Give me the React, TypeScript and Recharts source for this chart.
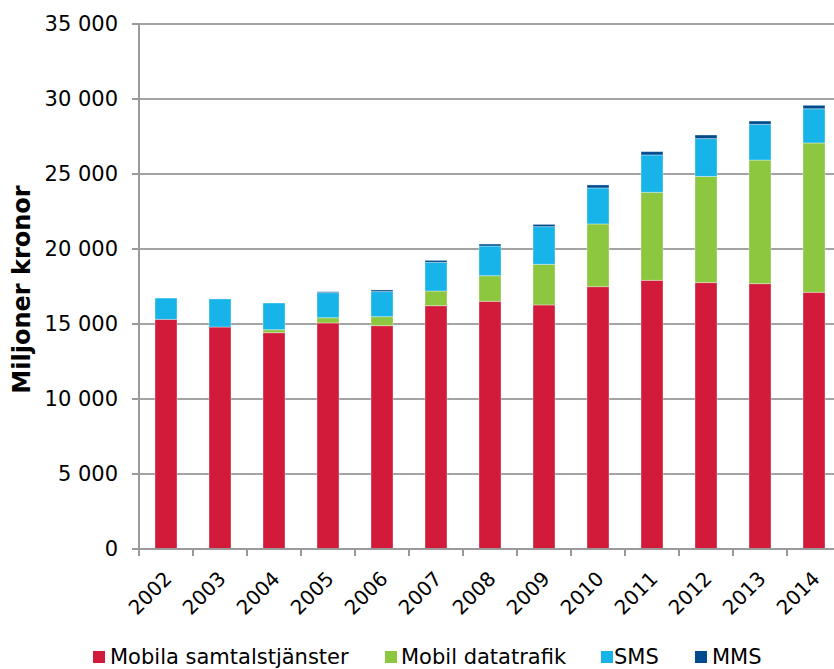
import React from 'react';
import {
  BarChart,
  Bar,
  XAxis,
  YAxis,
  CartesianGrid,
  Legend,
  Label,
} from 'recharts';

// Mobile service revenue, million SEK per year
const years = ['2002', '2003', '2004', '2005', '2006', '2007', '2008', '2009', '2010', '2011', '2012', '2013', '2014'];
const samtalstjanster = [15310, 14800, 14420, 15070, 14890, 16220, 16510, 16270, 17490, 17910, 17760, 17690, 17110];
const datatrafik = [0, 0, 200, 350, 600, 980, 1710, 2710, 4180, 5870, 7080, 8240, 9960];
const sms = [1420, 1870, 1780, 1670, 1670, 1910, 1980, 2510, 2400, 2490, 2520, 2380, 2280];
const mms = [0, 0, 0, 60, 110, 130, 130, 150, 200, 220, 240, 220, 230];
const yTicks = [0, 5000, 10000, 15000, 20000, 25000, 30000, 35000];

const series = [
  { key: 'samtal', name: 'Mobila samtalstjänster', color: '#D21B3A', values: samtalstjanster },
  { key: 'data', name: 'Mobil datatrafik', color: '#8DC63F', values: datatrafik },
  { key: 'sms', name: 'SMS', color: '#16B4E9', values: sms },
  { key: 'mms', name: 'MMS', color: '#004B8D', values: mms },
];

const data = years.map((year, i) => {
  const row: Record<string, string | number> = { year };
  series.forEach((s) => {
    row[s.key] = s.values[i];
  });
  return row;
});

// Layout
const CHART_W = 870;
const CHART_H = 669;
const MARGIN = { top: 24, right: 29, left: 0, bottom: 0 };
const Y_AXIS_W = 139;
const X_AXIS_H = 80;
const LEGEND_H = 40;
const PLOT_W = CHART_W - MARGIN.left - MARGIN.right - Y_AXIS_W;
const BAND = PLOT_W / years.length;
const AXIS_COLOR = '#9a9a9a';
const FONT = '"DejaVu Sans", Verdana, sans-serif';

// Horizontal placement of each legend entry (swatch, label)
const legendLayout = [
  { square: 93, text: 110 },
  { square: 385, text: 401 },
  { square: 601, text: 614 },
  { square: 695, text: 712 },
];

const formatThousands = (v: number) =>
  String(v).replace(/\B(?=(\d{3})+(?!\d))/g, ' ');

const XTick = (props: any) => {
  const { x, y, payload, index } = props;
  const tx = x + 7;
  const ty = y + 31;
  return (
    <g>
      <line x1={x - BAND / 2} x2={x - BAND / 2} y1={y} y2={y + 7} stroke={AXIS_COLOR} strokeWidth={2} />
      {index === years.length - 1 && (
        <line x1={x + BAND / 2} x2={x + BAND / 2} y1={y} y2={y + 7} stroke={AXIS_COLOR} strokeWidth={2} />
      )}
      <text
        x={tx}
        y={ty}
        transform={`rotate(-45 ${tx} ${ty})`}
        textAnchor="end"
        fontFamily={FONT}
        fontSize={20}
        fill="#000"
      >
        {payload.value}
      </text>
    </g>
  );
};

const renderLegend = () => (
  <svg width={834} height={LEGEND_H} style={{ display: 'block' }}>
    {series.map((s, i) => {
      const l = legendLayout[i];
      return (
        <g key={s.key}>
          <rect x={l.square} y={22} width={12} height={12} fill={s.color} />
          <text x={l.text} y={35} fontFamily={FONT} fontSize={21} fill="#000">
            {s.name}
          </text>
        </g>
      );
    })}
  </svg>
);

const YTitle = (props: any) => {
  const vb = props.viewBox || { x: 0, y: 0, height: 0 };
  const cx = 22;
  const cy = vb.y + vb.height / 2 + 3;
  return (
    <text
      x={cx}
      y={cy}
      transform={`rotate(-90 ${cx} ${cy})`}
      textAnchor="middle"
      dominantBaseline="central"
      fontFamily={FONT}
      fontWeight="bold"
      fontSize={24}
      fill="#000"
    >
      Miljoner kronor
    </text>
  );
};

export default function App() {
  return (
    <div
      style={{
        position: 'absolute',
        left: 0,
        top: 0,
        width: 834,
        height: 669,
        overflow: 'hidden',
        background: '#fff',
      }}
    >
      <BarChart width={CHART_W} height={CHART_H} data={data} margin={MARGIN} barSize={22}>
        <CartesianGrid vertical={false} stroke="#a3a3a3" strokeWidth={2} />
        <XAxis
          dataKey="year"
          interval={0}
          tickLine={false}
          tickSize={0}
          tickMargin={0}
          height={X_AXIS_H}
          axisLine={{ stroke: AXIS_COLOR, strokeWidth: 2 }}
          tick={<XTick />}
        />
        <YAxis
          type="number"
          domain={[0, 35000]}
          ticks={yTicks}
          interval={0}
          width={Y_AXIS_W}
          tickSize={7}
          tickMargin={14}
          tickFormatter={formatThousands}
          axisLine={{ stroke: AXIS_COLOR, strokeWidth: 2 }}
          tickLine={{ stroke: AXIS_COLOR, strokeWidth: 2 }}
          tick={{ fontFamily: FONT, fontSize: 21, fill: '#000' }}
        >
          <Label content={<YTitle />} />
        </YAxis>
        <Legend
          verticalAlign="bottom"
          height={LEGEND_H}
          content={renderLegend}
          wrapperStyle={{ left: 0, width: 834, bottom: 0 }}
        />
        {series.map((s) => (
          <Bar
            key={s.key}
            dataKey={s.key}
            name={s.name}
            stackId="a"
            fill={s.color}
            stroke="#ffffff"
            strokeOpacity={0.35}
            strokeWidth={1}
            isAnimationActive={false}
          />
        ))}
      </BarChart>
    </div>
  );
}
